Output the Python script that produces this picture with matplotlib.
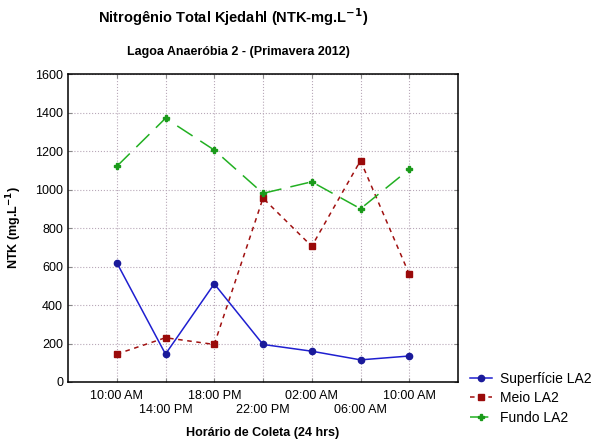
import matplotlib
matplotlib.use("Agg")
import matplotlib.pyplot as plt

# ------------------------------------------------------------
# Dados
# ------------------------------------------------------------
horarios = ["10:00 AM", "14:00 PM", "18:00 PM", "22:00 PM",
            "02:00 AM", "06:00 AM", "10:00 AM"]
superficie = [620, 145, 510, 195, 160, 115, 135]
meio = [145, 230, 195, 955, 705, 1150, 560]
fundo = [1120, 1370, 1205, 980, 1040, 900, 1105]

plt.rcParams["font.family"] = ["Liberation Sans", "DejaVu Sans"]

fig = plt.figure(figsize=(6.0, 4.45), dpi=100)
ax = fig.add_axes([68 / 600, 1 - 382 / 445, 390 / 600, 308 / 445])

x = list(range(len(horarios)))
ax.plot(x, superficie, color="#1f1fd0", lw=1.1, ls="-",
        marker="o", ms=4.5, mfc="#1a1a9a", mec="#1a1a9a", label="Superfície LA2")
ax.plot(x, meio, color="#a01010", lw=1.1, ls=(0, (3, 3)),
        marker="s", ms=4.5, mfc="#9a0a0a", mec="#9a0a0a", label="Meio LA2")
ax.plot(x, fundo, color="#22b022", lw=1.1, ls=(0, (12, 6)),
        marker="P", ms=4.5, mfc="#1a9a1a", mec="#1a9a1a", label="Fundo LA2")

ax.set_xlim(-1, 7)
ax.set_ylim(0, 1600)
ax.set_yticks(range(0, 1601, 200))
ax.set_xticks(x)
ax.set_xticklabels([h if i % 2 == 0 else "\n" + h for i, h in enumerate(horarios)])
ax.tick_params(axis="both", labelsize=9, direction="in", length=3,
               top=True, right=True, color="#888888")
ax.tick_params(axis="x", pad=6)
ax.grid(True, ls=":", color="#b8a8b8", lw=0.8)
for s in ax.spines.values():
    s.set_linewidth(1.1)

ax.set_xlabel("Horário de Coleta (24 hrs)", fontsize=9, fontweight="bold", labelpad=8)
ax.set_ylabel("NTK (mg.L$^{\\mathbf{-1}}$)", fontsize=9, fontweight="bold", labelpad=8)

fig.text(233 / 600, 1 - 17 / 445, "Nitrogênio Total Kjedahl (NTK-mg.L$^{\\mathbf{-1}}$)",
         ha="center", va="center", fontsize=10.5, fontweight="bold")
fig.text(238 / 600, 1 - 52 / 445, "Lagoa Anaeróbia 2 - (Primavera 2012)",
         ha="center", va="center", fontsize=9, fontweight="bold")

fig.legend(loc="upper left", bbox_to_anchor=(464 / 600, 1 - 366 / 445),
           frameon=False, fontsize=10, handlelength=1.6, handletextpad=0.6,
           labelspacing=0.4, borderaxespad=0)

fig.savefig("out.png", dpi=100)
